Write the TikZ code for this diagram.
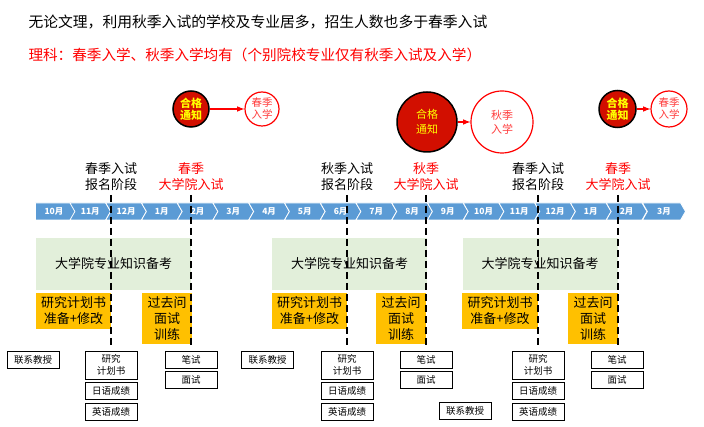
\documentclass[tikz,border=0pt]{standalone}
\usepackage{fontspec}
\setmainfont{Noto Sans CJK SC}
\usepackage{xcolor}
\usetikzlibrary{shapes.symbols}
\definecolor{barblue}{RGB}{91,155,213}
\definecolor{studygreen}{RGB}{226,239,218}
\definecolor{planorange}{RGB}{255,192,0}
\definecolor{passred}{RGB}{210,15,0}
\definecolor{passyellow}{RGB}{255,255,0}
\definecolor{enterred}{RGB}{255,60,60}
\tikzset{
monthbox/.style={signal, signal to=east, signal from=west, signal pointer angle=120, fill=barblue, draw=white, line width=0.8pt, text=white, inner sep=0pt, minimum height=17pt, minimum width=40.65pt, font=\fontsize{8.5}{10}\selectfont\bfseries},
studybox/.style={fill=studygreen, inner sep=0pt, minimum width=155pt, minimum height=52pt, font=\fontsize{13}{16}\selectfont},
planbox/.style={fill=planorange, inner sep=0pt, align=center, font=\fontsize{13}{16}\selectfont},
itembox/.style={draw=black, line width=0.8pt, fill=white, inner sep=0pt, minimum width=52pt, minimum height=17pt, align=center, font=\fontsize{9.5}{12}\selectfont},
stagelabel/.style={align=center, font=\fontsize{13}{16}\selectfont},
examlabel/.style={stagelabel, text=red},
passcircle/.style={circle, draw=black, line width=1.5pt, fill=passred, text=passyellow, inner sep=0pt, align=center, minimum size=36pt, font=\fontsize{11}{12}\selectfont\bfseries},
entercircle/.style={circle, draw=red, line width=1.2pt, fill=white, text=enterred, inner sep=0pt, align=center, minimum size=34pt, font=\fontsize{10.5}{12}\selectfont},
cutline/.style={black, line width=2pt, dash pattern=on 7pt off 4pt},
redarrow/.style={red, line width=1.5pt, -latex},
}
\begin{document}
\begin{tikzpicture}[x=1pt,y=-1pt]
\useasboundingbox (0,0) rectangle (704,427);
\node[anchor=west, font=\fontsize{14.8}{18}\selectfont] at (25,22) (headline) {无论文理，利用秋季入试的学校及专业居多，招生人数也多于春季入试};
\node[anchor=west, text=red, font=\fontsize{14.6}{18}\selectfont] at (25,55) (subline) {理科：春季入学、秋季入学均有（个别院校专业仅有秋季入试及入学）};
%months
\node[monthbox, signal from=nowhere, minimum width=41.9pt] at (53.95,211.5) (oct1) {10月};
\node[monthbox] at (90.3,211.5) (nov1) {11月};
\node[monthbox] at (126.1,211.5) (dec1) {12月};
\node[monthbox] at (161.8,211.5) (jan1) {1月};
\node[monthbox] at (197.6,211.5) (feb1) {2月};
\node[monthbox] at (233.3,211.5) (mar1) {3月};
\node[monthbox] at (269.1,211.5) (apr) {4月};
\node[monthbox] at (304.8,211.5) (may) {5月};
\node[monthbox] at (340.6,211.5) (jun) {6月};
\node[monthbox] at (376.3,211.5) (jul) {7月};
\node[monthbox] at (412.1,211.5) (aug) {8月};
\node[monthbox] at (447.8,211.5) (sep) {9月};
\node[monthbox] at (483.6,211.5) (oct2) {10月};
\node[monthbox] at (519.3,211.5) (nov2) {11月};
\node[monthbox] at (555.1,211.5) (dec2) {12月};
\node[monthbox] at (590.8,211.5) (jan2) {1月};
\node[monthbox] at (626.6,211.5) (feb2) {2月};
\node[monthbox, minimum width=43pt] at (664,211.5) (mar2) {3月};
%spring 1
\begin{scope}[xshift = 111pt]
\node[studybox] at (2.5,264) (study1) {大学院专业知识备考};
\node[planbox, minimum width=75pt, minimum height=36pt] at (-37.5,311) (plan1) {研究计划书\\准备+修改};
\node[planbox, minimum width=50pt, minimum height=51pt] at (56,318.5) (past1) {过去问\\面试\\训练};
\coordinate (applytop1) at (0,195);
\coordinate (applyend1) at (0,345);
\coordinate (examtop1) at (80,195);
\coordinate (examend1) at (80,345);
\draw[cutline] (applytop1) to (applyend1);
\draw[cutline] (examtop1) to (examend1);
\node[stagelabel] at (0,177) (apply1) {春季入试\\报名阶段};
\node[examlabel] at (80,177) (exam1) {春季\\大学院入试};
\node[itembox] at (-78,359.5) (contact1) {联系教授};
\node[itembox, minimum height=28pt] at (0,365) (research1) {研究\\计划书};
\node[itembox] at (0,390.5) (japanese1) {日语成绩};
\node[itembox] at (0,411.5) (english1) {英语成绩};
\node[itembox] at (80,359.5) (written1) {笔试};
\node[itembox] at (80,379.5) (interview1) {面试};
\node[passcircle] at (80,109) (pass1) {合格\\通知};
\node[entercircle] at (151,109) (enter1) {春季\\入学};
\draw[redarrow] (pass1) to (enter1);
\end{scope}
%autumn
\begin{scope}[xshift = 347pt]
\node[studybox] at (2.5,264) (study2) {大学院专业知识备考};
\node[planbox, minimum width=75pt, minimum height=36pt] at (-37.5,311) (plan2) {研究计划书\\准备+修改};
\node[planbox, minimum width=50pt, minimum height=51pt] at (54,318.5) (past2) {过去问\\面试\\训练};
\coordinate (applytop2) at (0,195);
\coordinate (applyend2) at (0,345);
\coordinate (examtop2) at (79,195);
\coordinate (examend2) at (79,345);
\draw[cutline] (applytop2) to (applyend2);
\draw[cutline] (examtop2) to (examend2);
\node[stagelabel] at (0,177) (apply2) {秋季入试\\报名阶段};
\node[examlabel] at (79,177) (exam2) {秋季\\大学院入试};
\node[itembox] at (-79.5,359.5) (contact2) {联系教授};
\node[itembox, minimum height=28pt] at (0,365) (research2) {研究\\计划书};
\node[itembox] at (0,390.5) (japanese2) {日语成绩};
\node[itembox] at (0,411.5) (english2) {英语成绩};
\node[itembox] at (79,359.5) (written2) {笔试};
\node[itembox] at (79,379.5) (interview2) {面试};
\node[passcircle, minimum size=60pt, font=\fontsize{11}{15}\selectfont] at (80,122) (pass2) {合格\\通知};
\node[entercircle, minimum size=62pt, font=\fontsize{11}{14}\selectfont] at (155,122) (enter2) {秋季\\入学};
\draw[redarrow] (pass2) to (enter2);
\end{scope}
%spring 2
\begin{scope}[xshift = 538pt]
\node[studybox] at (2,264) (study3) {大学院专业知识备考};
\node[planbox, minimum width=76pt, minimum height=36pt] at (-38,311) (plan3) {研究计划书\\准备+修改};
\node[planbox, minimum width=50pt, minimum height=51pt] at (55,318.5) (past3) {过去问\\面试\\训练};
\coordinate (applytop3) at (0,195);
\coordinate (applyend3) at (0,345);
\coordinate (examtop3) at (80,195);
\coordinate (examend3) at (80,345);
\draw[cutline] (applytop3) to (applyend3);
\draw[cutline] (examtop3) to (examend3);
\node[stagelabel] at (0,177) (apply3) {春季入试\\报名阶段};
\node[examlabel] at (80,177) (exam3) {春季\\大学院入试};
\node[itembox] at (-73,411) (contact3) {联系教授};
\node[itembox, minimum height=28pt] at (0,365) (research3) {研究\\计划书};
\node[itembox] at (0,390.5) (japanese3) {日语成绩};
\node[itembox] at (0,411.5) (english3) {英语成绩};
\node[itembox] at (79,359.5) (written3) {笔试};
\node[itembox] at (79,379.5) (interview3) {面试};
\node[passcircle, minimum size=37pt] at (79.5,109) (pass3) {合格\\通知};
\node[entercircle, minimum size=36pt] at (131,109) (enter3) {春季\\入学};
\draw[redarrow] (pass3) to (enter3);
\end{scope}
\end{tikzpicture}
\end{document}
